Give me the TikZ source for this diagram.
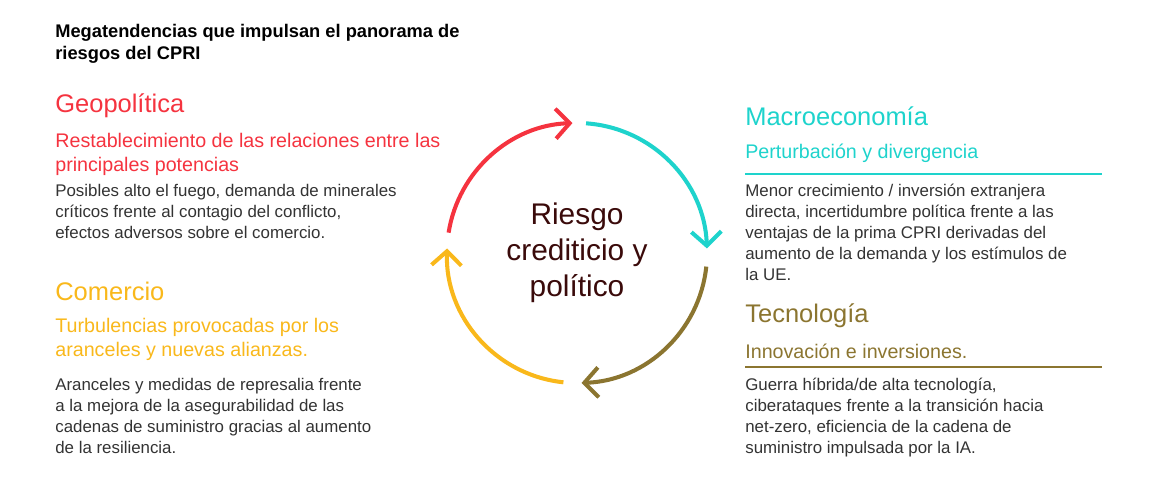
\documentclass[tikz,border=0pt]{standalone}
\usepackage{fontspec}
\setmainfont{Liberation Sans}
\usetikzlibrary{arrows.meta,positioning}
\definecolor{geored}{HTML}{F5333F}
\definecolor{macroteal}{HTML}{1ED3CC}
\definecolor{tecolive}{HTML}{8B7530}
\definecolor{comyellow}{HTML}{F9B81B}
\definecolor{centerbrown}{HTML}{3A0A0A}
\definecolor{bodygray}{HTML}{333333}
\tikzset{
  heading/.style={anchor=west, inner sep=0pt, font=\fontsize{14.5}{17}\selectfont},
  subhead/.style={anchor=north west, inner sep=0pt, align=left, font=\fontsize{11.2}{13.6}\selectfont},
  bodytext/.style={anchor=north west, inner sep=0pt, align=left, text=bodygray, font=\fontsize{9.6}{11.9}\selectfont},
  ring/.style={line width=2.3pt},
  barb/.style={-{Straight Barb[length=8pt,width=17pt,line width=2.3pt]}}
}
\begin{document}
\begin{tikzpicture}[x=0.02cm,y=-0.02cm]
  \useasboundingbox (0,0) rectangle (1150,484);
  % title
  \node (title) [anchor=north west, inner sep=0pt, align=left, font=\bfseries\fontsize{10.4}{12.6}\selectfont] at (55,24)
    {Megatendencias que impulsan el panorama de\\riesgos del CPRI};

  % left column
  \node (geo) [heading, text=geored] at (55,106) {Geopolítica};
  \node (geosub) [subhead, text=geored] at (55,133) {Restablecimiento de las relaciones entre las\\principales potencias};
  \node (geobody) [bodytext] at (55,184) {Posibles alto el fuego, demanda de minerales\\críticos frente al contagio del conflicto,\\efectos adversos sobre el comercio.};

  \node (com) [heading, text=comyellow] at (55,291) {Comercio};
  \node (comsub) [subhead, text=comyellow] at (55,318) {Turbulencias provocadas por los\\aranceles y nuevas alianzas.};
  \node (combody) [bodytext] at (55,378) {Aranceles y medidas de represalia frente\\a la mejora de la asegurabilidad de las\\cadenas de suministro gracias al aumento\\de la resiliencia.};

  % right column
  \node (mac) [heading, text=macroteal] at (745,116) {Macroeconomía};
  \node (macsub) [subhead, text=macroteal] at (745,144) {Perturbación y divergencia};
  \coordinate (macl) at (745,174);
  \coordinate (macr) at (1102,174);
  \draw[macroteal, line width=0.7pt] (macl) -- (macr);
  \node (macbody) [bodytext] at (745,184) {Menor crecimiento / inversión extranjera\\directa, incertidumbre política frente a las\\ventajas de la prima CPRI derivadas del\\aumento de la demanda y los estímulos de\\la UE.};

  \node (tec) [heading, text=tecolive] at (745,316) {Tecnología};
  \node (tecsub) [subhead, text=tecolive] at (745,344) {Innovación e inversiones.};
  \coordinate (tecl) at (745,367);
  \coordinate (tecr) at (1102,367);
  \draw[tecolive, line width=0.7pt] (tecl) -- (tecr);
  \node (tecbody) [bodytext] at (745,378) {Guerra híbrida/de alta tecnología,\\ciberataques frente a la transición hacia\\net-zero, eficiencia de la cadena de\\suministro impulsada por la IA.};

  % cycle
  \coordinate (c) at (577,253);
  \node (risk) [align=center, text=centerbrown, font=\fontsize{17}{20.5}\selectfont] at (c) {Riesgo\\crediticio y\\político};
  \draw[ring, barb, geored] (c) ++(-171:130) arc (-171:-92:130);
  \draw[ring, barb, macroteal] (c) ++(-86:130) arc (-86:-2:130);
  \draw[ring, barb, tecolive] (c) ++(6:130) arc (6:88:130);
  \draw[ring, barb, comyellow] (c) ++(96:130) arc (96:182:130);
\end{tikzpicture}
\end{document}
